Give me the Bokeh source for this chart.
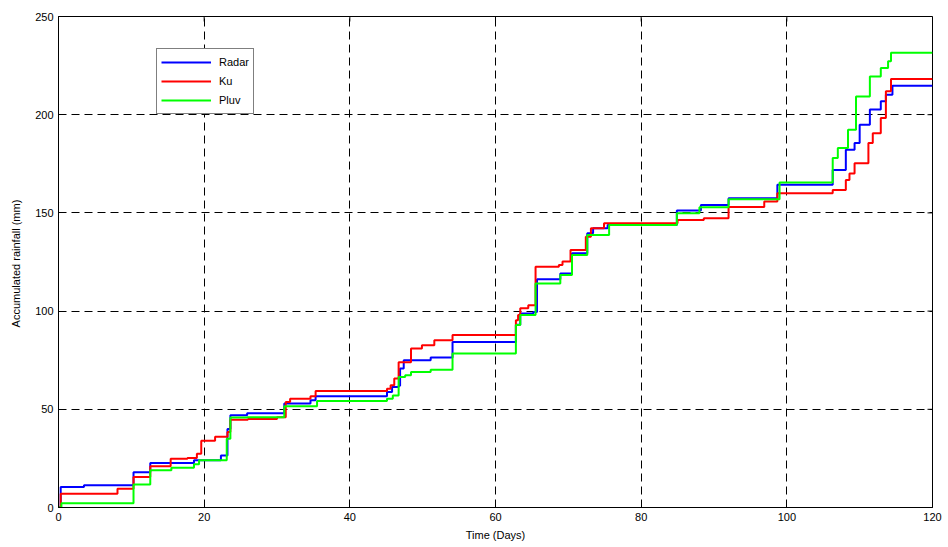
import math
from bokeh.plotting import figure
from bokeh.models import Range1d, FixedTicker, Legend, LegendItem
from bokeh.embed import file_html
from bokeh.resources import INLINE

# ---- data (step series: value holds from each time until the next) ----
radar_t = [0, 0.3, 3.5, 10.3, 12.6, 18.6, 22.3, 23.2, 23.6, 25.9, 31.0, 34.6, 35.3, 45.1, 45.8,
           46.7, 46.9, 47.4, 51.1, 54.1, 62.8, 63.4, 65.2, 65.7, 68.9, 70.5, 72.6, 73.4, 75.4,
           84.9, 88.2, 92.0, 98.7, 106.3, 108.1, 109.3, 110.0, 111.4, 112.9, 113.6, 114.5, 120]
radar_v = [0, 10.5, 11.3, 18.0, 22.6, 24.0, 26.5, 40.0, 47.0, 48.0, 53.0, 54.6, 56.6, 58.8, 61.4,
           62.0, 70.8, 75.0, 76.4, 84.3, 93.0, 98.8, 99.6, 116.2, 119.2, 129.4, 139.6, 142.2, 143.9,
           151.2, 154.0, 157.5, 164.3, 171.9, 182.1, 185.6, 194.9, 202.6, 206.8, 210.2, 214.8, 214.8]

ku_t = [0, 0.3, 8.1, 10.3, 12.6, 15.4, 17.7, 19.0, 19.6, 21.5, 23.2, 23.6, 26.0, 30.0, 31.2, 31.8,
        34.6, 35.3, 45.1, 45.6, 46.1, 46.7, 48.4, 49.9, 51.6, 54.1, 62.8, 63.1, 63.4, 64.5, 65.5,
        68.7, 69.2, 70.3, 72.4, 73.1, 74.9, 85.0, 88.6, 92.0, 96.9, 98.7, 106.3, 108.1, 108.6,
        109.3, 111.2, 111.8, 112.9, 113.6, 114.3, 120]
ku_v = [0, 7.0, 9.5, 15.5, 21.0, 24.8, 25.2, 27.4, 34.0, 36.0, 38.4, 44.7, 45.0, 46.0, 53.7, 55.4,
        56.6, 59.3, 60.5, 62.2, 65.7, 74.0, 81.0, 82.6, 85.2, 87.8, 95.4, 98.0, 101.4, 103.0, 122.6,
        123.5, 125.2, 131.1, 137.9, 142.2, 144.7, 146.4, 147.3, 153.0, 155.8, 160.0, 161.7, 166.8, 170.0,
        175.3, 185.6, 190.6, 198.3, 211.9, 218.2, 218.2]

pluv_t = [0, 0.4, 10.3, 12.6, 15.5, 18.6, 19.3, 23.1, 23.6, 25.9, 31.0, 35.5, 45.1, 45.9, 46.7,
          47.6, 48.4, 51.1, 54.1, 62.8, 63.4, 65.5, 68.9, 70.5, 72.6, 75.6, 84.9, 88.0, 92.0,
          99.0, 106.3, 107.0, 108.4, 109.5, 111.4, 112.9, 113.9, 114.3, 120]
pluv_v = [0, 2.2, 11.7, 19.0, 20.2, 22.0, 24.0, 35.0, 45.8, 46.0, 51.5, 54.2, 55.4, 57.0, 66.5,
          67.3, 69.0, 70.2, 78.4, 92.9, 98.0, 114.0, 118.4, 128.6, 138.8, 143.9, 149.8, 152.9, 157.0,
          165.5, 177.9, 183.0, 192.3, 209.3, 219.5, 223.8, 227.2, 231.5, 231.5]

x_ticks = [0, 20, 40, 60, 80, 100, 120]
y_ticks = [0, 50, 100, 150, 200, 250]

FONT = "Liberation Sans"

p = figure(width=948, height=547, output_backend="svg", toolbar_location=None,
           x_range=Range1d(0, 120), y_range=Range1d(0, 250),
           min_border_left=58, min_border_right=16, min_border_top=16, min_border_bottom=40)
p.background_fill_color = "white"
p.border_fill_color = "white"
p.outline_line_color = "black"
p.outline_line_width = 1

for ax, ticks in ((p.xaxis[0], x_ticks), (p.yaxis[0], y_ticks)):
    ax.ticker = FixedTicker(ticks=ticks)
    ax.major_tick_in = 5
    ax.major_tick_out = 0
    ax.minor_tick_line_color = None
    ax.axis_line_color = "black"
    ax.major_tick_line_color = "black"
    ax.major_label_text_font = FONT
    ax.major_label_text_font_size = "11px"
    ax.major_label_text_color = "black"
    ax.axis_label_text_font = FONT
    ax.axis_label_text_font_size = "11px"
    ax.axis_label_text_font_style = "normal"
    ax.axis_label_text_color = "black"

p.xaxis.axis_label = "Time (Days)"
p.xaxis.major_label_standoff = 5
p.xaxis.axis_label_standoff = 5
p.yaxis.axis_label = "Accumulated rainfall  (mm)"
p.yaxis.major_label_standoff = 5
p.yaxis.axis_label_standoff = 10

p.xgrid.ticker = FixedTicker(ticks=x_ticks)
p.ygrid.ticker = FixedTicker(ticks=y_ticks)
for g in (p.xgrid[0], p.ygrid[0]):
    g.grid_line_color = "black"
    g.grid_line_dash = "8 5"
    g.grid_line_width = 1

# mirrored inward ticks on the top and right edges (MATLAB box style)
p.ray(x=x_ticks, y=[250] * len(x_ticks), length=5, length_units="screen",
      angle=-math.pi / 2, line_color="black", line_width=1)
p.ray(x=[120] * len(y_ticks), y=y_ticks, length=5, length_units="screen",
      angle=math.pi, line_color="black", line_width=1)

r1 = p.step(radar_t, radar_v, mode="after", line_color="#0000ff", line_width=2)
r2 = p.step(ku_t, ku_v, mode="after", line_color="#ff0000", line_width=2)
r3 = p.step(pluv_t, pluv_v, mode="after", line_color="#00ff00", line_width=2)

legend = Legend(items=[LegendItem(label="Radar", renderers=[r1]),
                       LegendItem(label="Ku", renderers=[r2]),
                       LegendItem(label="Pluv", renderers=[r3])],
                location=(98, 393))
legend.border_line_color = "black"
legend.border_line_width = 1
legend.background_fill_color = "white"
legend.background_fill_alpha = 1
legend.label_text_font = FONT
legend.label_text_font_size = "11px"
legend.label_text_color = "black"
legend.padding = 4
legend.margin = 0
legend.spacing = 1
legend.label_height = 18
legend.glyph_height = 18
legend.glyph_width = 50
legend.label_standoff = 8
p.add_layout(legend)

open("out.html", "w").write(file_html(p, INLINE))
